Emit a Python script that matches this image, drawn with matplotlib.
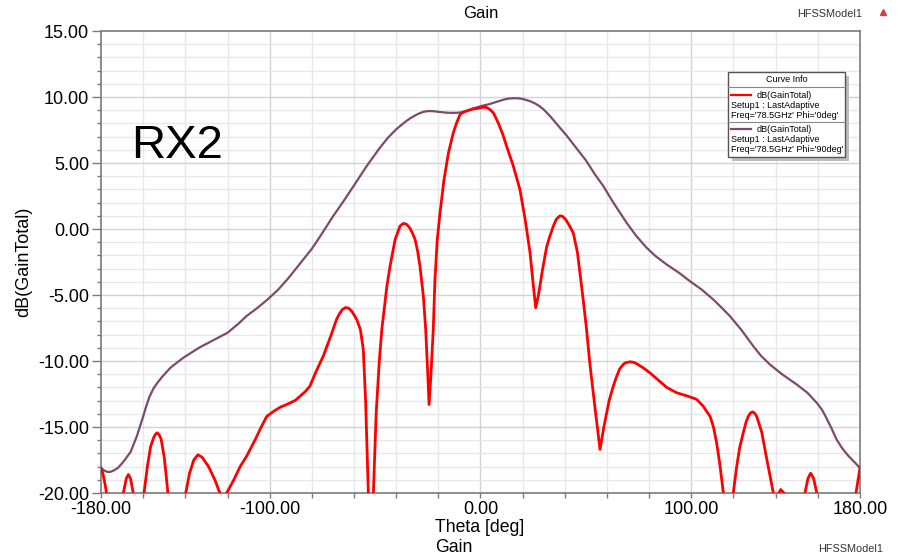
import matplotlib
matplotlib.use("Agg")
import matplotlib.pyplot as plt
from matplotlib.patches import Rectangle
from matplotlib.lines import Line2D
from matplotlib.ticker import MultipleLocator, FixedLocator

# Gain patterns, dB(GainTotal) vs Theta, Freq = 78.5 GHz
theta_phi90 = [-180, -178.5, -177, -175.5, -174, -172, -169.7, -166, -163, -160, -158.5,
               -157, -155, -153, -151, -149, -147, -145, -141, -137, -133, -127, -120,
               -115, -111, -106, -101, -96, -91, -86, -80, -75, -70, -65, -60, -54, -48,
               -44, -40, -37, -35, -33, -31, -29, -27, -25, -23, -21, -19, -16.5, -14,
               -12, -10, -8, -6, -4, -2, 0, 2, 4, 6, 8, 10, 11, 12.5, 14, 16, 18, 20, 22,
               24, 26, 28, 30, 33, 37, 41, 45.6, 50, 54, 58.3, 63, 69.3, 74, 78.8, 83,
               88.3, 94, 99.3, 105, 110.4, 114, 118.3, 124, 129.4, 133, 137.3, 143, 150,
               155, 159.5, 162, 164, 166.5, 168.9, 171.5, 174, 177, 180]
gain_phi90 = [-18.1, -18.3, -18.4, -18.4, -18.3, -18.1, -17.7, -16.9, -15.7, -14.2,
              -13.4, -12.7, -12.05, -11.6, -11.2, -10.85, -10.5, -10.25, -9.76, -9.35,
              -8.95, -8.45, -7.86, -7.2, -6.6, -6.0, -5.34, -4.6, -3.7, -2.7, -1.5, -0.3,
              0.95, 2.1, 3.3, 4.76, 6.1, 6.9, 7.55, 7.95, 8.2, 8.42, 8.6, 8.76, 8.88, 8.93,
              8.93, 8.9, 8.86, 8.82, 8.8, 8.8, 8.82, 8.88, 8.96, 9.1, 9.2, 9.3, 9.38, 9.45,
              9.55, 9.65, 9.75, 9.8, 9.86, 9.89, 9.91, 9.9, 9.85, 9.76, 9.65, 9.5, 9.3,
              9.05, 8.55, 7.8, 7.05, 6.1, 5.2, 4.2, 3.24, 2.0, 0.47, -0.55, -1.42, -2.05,
              -2.69, -3.3, -3.95, -4.6, -5.34, -5.9, -6.6, -7.7, -8.88, -9.6, -10.27,
              -11.0, -11.78, -12.4, -13.17, -13.7, -14.3, -15.1, -15.95, -16.6, -17.1,
              -17.6, -18.1]

theta_phi0 = [-180, -179, -178, -177, -175.5, -173, -170.5, -169.4, -168, -167, -166, -164.7,
              -163, -161.5, -159.6, -158, -156.5, -155, -154.2, -153.3, -152.4, -151.5,
              -150, -148.5, -147, -144, -141, -139.8, -138, -136, -134, -132, -129, -126,
              -123.6, -122, -120.4, -117, -114, -110.9, -107, -104, -101.4, -98, -95, -92,
              -88, -85.6, -83, -80.9, -78, -74.6, -71, -68.3, -67, -65.5, -64, -62.5, -61,
              -59.8, -58.7, -57, -55.6, -54.5, -53.2, -52, -50.8, -49.5, -48, -46.8, -44.4,
              -42.9, -40.5, -38.2, -37, -36.3, -35, -33.6, -32.3, -31, -29.8, -28.7, -27.1,
              -26, -25, -24.4, -23.5, -22.4, -21.6, -20.5, -19.2, -17.3, -15.2, -12.9,
              -11.2, -9.7, -8, -6.5, -5, -3.4, -1, 1.3, 3, 4.5, 6.1, 7.5, 8.5, 10.5, 12.4,
              15.5, 18.7, 21.2, 23.5, 25.0, 26.2, 27.5, 29.5, 31.4, 33, 34.5, 36, 37.7,
              39, 40.5, 42, 44, 46, 48.7, 50.3, 52, 54.5, 56.7, 58.5, 61, 63, 64.5, 66,
              67.5, 68.5, 70.9, 72.5, 74, 77, 80.4, 84, 88.3, 93, 98, 102.5, 105.5, 108.9,
              110.5, 112, 113.5, 115.2, 117.5, 119.9, 121.5, 123, 124.7, 126, 127, 128,
              129, 130, 131, 132, 133.4, 135.5, 138.9, 140.5, 142.4, 144.5, 147, 150,
              153.9, 155.3, 156.6, 158, 159.5, 161, 165, 170, 176, 178.1, 180]
gain_phi0 = [-18.1, -18.6, -19.4, -20.4, -23, -26, -21.5, -20, -18.9, -18.6, -18.9, -20,
             -21.8, -23, -20, -18.0, -16.5, -15.8, -15.55, -15.44, -15.6, -15.9, -17.3,
             -19.6, -22, -27, -22, -20, -18.5, -17.5, -17.1, -17.3, -18.0, -19.0, -20,
             -20.3, -20, -19.0, -18.0, -17.2, -16.0, -15.0, -14.2, -13.8, -13.5, -13.3,
             -13.0, -12.67, -12.3, -11.9, -10.8, -9.64, -8.1, -6.86, -6.45, -6.1, -5.95,
             -6.0, -6.25, -6.55, -6.86, -7.6, -9.1, -13, -20, -26, -20, -14, -10, -7.6,
             -4.33, -2.82, -0.8, 0.21, 0.38, 0.42, 0.35, 0.09, -0.3, -0.8, -1.7, -2.82,
             -5.1, -7.6, -11, -13.3, -11, -7.6, -3.8, -0.8, 1.23, 3.75, 5.77, 7.29, 8.1,
             8.67, 8.87, 8.95, 9.03, 9.1, 9.15, 9.23, 9.2, 9.05, 8.8, 8.35, 8.0, 7.2,
             6.27, 4.8, 2.99, 0.7, -1.8, -4.2, -5.97, -5.0, -3.0, -1.33, -0.5, 0.2, 0.75,
             1.0, 0.95, 0.7, 0.3, -0.29, -1.8, -5.34, -7.6, -10.4, -13.8, -16.7, -15.0,
             -13.0, -11.9, -11.2, -10.6, -10.3, -10.15, -10.06, -10.1, -10.2, -10.5, -10.9,
             -11.4, -12.0, -12.4, -12.65, -12.9, -13.4, -14.2, -15.0, -16.2, -17.8, -20,
             -26, -20, -18.0, -16.5, -15.4, -14.6, -14.2, -13.95, -13.85, -13.95, -14.2,
             -14.7, -15.4, -17.2, -20, -20.3, -19.74, -20.1, -23, -26, -20, -18.9, -18.5,
             -18.9, -20, -23, -28, -26, -24, -20, -18.1]

x_ticks = [-180, -100, 0, 100, 180]
x_tick_labels = ["-180.00", "-100.00", "0.00", "100.00", "180.00"]
y_ticks = [-20, -15, -10, -5, 0, 5, 10, 15]
y_tick_labels = ["-20.00", "-15.00", "-10.00", "-5.00", "0.00", "5.00", "10.00", "15.00"]

legend_entries = [
    ("dB(GainTotal)", "Setup1 : LastAdaptive", "Freq='78.5GHz' Phi='0deg'"),
    ("dB(GainTotal)", "Setup1 : LastAdaptive", "Freq='78.5GHz' Phi='90deg'"),
]

RED = "#ff0000"
PURPLE = "#7d4a6d"
FONT = "Liberation Sans"

W, H = 901, 560
fig = plt.figure(figsize=(W / 100, H / 100), dpi=100)
plt.rcParams["font.family"] = [FONT, "DejaVu Sans"]


def fx(x):
    return x / W


def fy(y):
    return 1 - y / H


ax = fig.add_axes([fx(101), fy(493), (860 - 101) / W, (493 - 31) / H])
ax.set_xlim(-180, 180)
ax.set_ylim(-20, 15)

# grid: light lines every 20 deg / 1 dB, darker on labelled values
for xv in range(-160, 180, 20):
    c = "#d2d2d2" if xv in x_ticks else "#e8e8e8"
    ax.axvline(xv, color=c, lw=1.0, zorder=0)
for yv in range(-19, 15):
    c = "#d2d2d2" if yv % 5 == 0 else "#e8e8e8"
    ax.axhline(yv, color=c, lw=1.0, zorder=0)

ax.plot(theta_phi90, gain_phi90, color=PURPLE, lw=1.6, zorder=3, solid_joinstyle="round")
ax.plot(theta_phi0, gain_phi0, color=RED, lw=2.0, zorder=4, solid_joinstyle="round")

for s in ax.spines.values():
    s.set_color("#7a7a7a")
    s.set_linewidth(1.2)

ax.xaxis.set_major_locator(FixedLocator(x_ticks))
ax.set_xticklabels(x_tick_labels)
ax.xaxis.set_minor_locator(MultipleLocator(20))
ax.yaxis.set_major_locator(FixedLocator(y_ticks))
ax.set_yticklabels(y_tick_labels)
ax.yaxis.set_minor_locator(MultipleLocator(1))
ax.tick_params(axis="x", which="both", direction="out", length=3.5, width=1,
               color="#7a7a7a", labelsize=13, pad=2.5)
ax.tick_params(axis="y", which="major", direction="out", length=6.5, width=1,
               color="#7a7a7a", labelsize=13, pad=2)
ax.tick_params(axis="y", which="minor", direction="out", length=3, width=1,
               color="#7a7a7a")

ax.set_ylabel("dB(GainTotal)", fontsize=13, labelpad=4)

# titles and annotations
fig.text(fx(481), fy(14), "Gain", ha="center", va="center", fontsize=12)
fig.text(fx(862), fy(14), "HFSSModel1", ha="right", va="center", fontsize=7.8,
         color="#333333")
fig.lines.append(Line2D([fx(883)], [fy(12)], marker="^", ms=5, color="#d04040",
                        transform=fig.transFigure))
fig.text(fx(131), fy(158), "RX2", ha="left", va="baseline", fontsize=34)
fig.text(fx(435), fy(527), "Theta [deg]", ha="left", va="center", fontsize=12.7)
fig.text(fx(435), fy(548), "Gain", ha="left", va="center", fontsize=12.7)
fig.text(fx(883), fy(549), "HFSSModel1", ha="right", va="center", fontsize=7.8,
         color="#333333")

# "Curve Info" legend box
bx0, by0, bx1, by1 = 728, 72, 845, 157
fig.patches.append(Rectangle((fx(bx0 + 4), fy(by1 + 4)), (bx1 - bx0) / W,
                             (by1 - by0) / H, transform=fig.transFigure,
                             facecolor="#bdbdbd", edgecolor="none", zorder=5))
fig.patches.append(Rectangle((fx(bx0), fy(by1)), (bx1 - bx0) / W, (by1 - by0) / H,
                             transform=fig.transFigure, facecolor="white",
                             edgecolor="#555555", lw=1.0, zorder=6))
fig.text(fx((bx0 + bx1) / 2), fy(80), "Curve Info", ha="center", va="center",
         fontsize=6.5, zorder=7)
for ysep in (87, 122):
    fig.lines.append(Line2D([fx(bx0), fx(bx1)], [fy(ysep), fy(ysep)], color="#888888",
                            lw=0.8, transform=fig.transFigure, zorder=7))
for (name, setup, freq), color, y0 in zip(legend_entries, [RED, PURPLE], [95, 129]):
    fig.lines.append(Line2D([fx(731), fx(751)], [fy(y0), fy(y0)], color=color, lw=1.6,
                            transform=fig.transFigure, zorder=7))
    fig.text(fx(757), fy(y0), name, ha="left", va="center", fontsize=6.5, zorder=7)
    fig.text(fx(731), fy(y0 + 10.5), setup, ha="left", va="center", fontsize=6.5, zorder=7)
    fig.text(fx(731), fy(y0 + 21), freq, ha="left", va="center", fontsize=6.5, zorder=7)

fig.savefig("out.png", dpi=100)
